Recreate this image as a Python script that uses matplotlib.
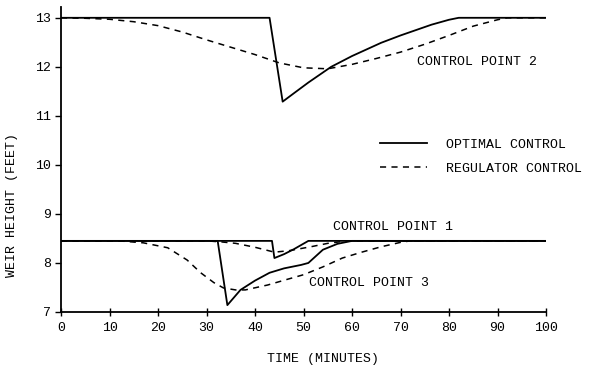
import matplotlib
matplotlib.use("Agg")
import matplotlib.pyplot as plt
from matplotlib.lines import Line2D

# control point 2
cp2_opt_t = [0, 43, 45.7, 48, 51, 55.7, 60, 66, 70, 76.4, 80, 82, 100]
cp2_opt_y = [13.0, 13.0, 11.29, 11.46, 11.68, 12.0, 12.22, 12.49, 12.64, 12.86, 12.96, 13.0, 13.0]
cp2_reg_t = [0, 5, 10, 15, 20, 25, 30, 35, 40, 45, 50, 55, 60, 65, 70, 75, 80, 85, 90, 92, 100]
cp2_reg_y = [13.0, 12.99, 12.97, 12.92, 12.84, 12.71, 12.55, 12.40, 12.25, 12.08, 11.98, 11.96,
             12.05, 12.17, 12.30, 12.46, 12.64, 12.83, 12.96, 13.0, 13.0]

# control point 1
cp1_opt_t = [0, 43.5, 44, 46, 48, 51, 100]
cp1_opt_y = [8.45, 8.45, 8.10, 8.18, 8.28, 8.45, 8.45]
cp1_reg_t = [0, 30, 33, 36, 40, 44, 47, 51.5, 55, 59, 100]
cp1_reg_y = [8.45, 8.45, 8.43, 8.40, 8.32, 8.22, 8.25, 8.33, 8.40, 8.45, 8.45]

# control point 3
cp3_opt_t = [0, 32.3, 34.3, 37, 40, 43, 46, 49.5, 51, 54, 57, 60, 100]
cp3_opt_y = [8.45, 8.45, 7.14, 7.45, 7.64, 7.80, 7.89, 7.96, 8.0, 8.27, 8.39, 8.45, 8.45]
cp3_reg_t = [0, 12, 17, 22, 26, 28.8, 31.5, 33.5, 36, 38, 42.6, 46.8, 50, 54, 58, 62, 66, 70, 72, 100]
cp3_reg_y = [8.45, 8.45, 8.41, 8.31, 8.06, 7.80, 7.60, 7.49, 7.45, 7.45, 7.55, 7.67, 7.76,
             7.92, 8.10, 8.22, 8.33, 8.42, 8.45, 8.45]

x_ticks = list(range(0, 101, 10))
y_ticks = [7, 8, 9, 10, 11, 12, 13]

FONT = "Liberation Mono"
FS = 9.5
plt.rcParams["font.family"] = FONT

fig = plt.figure(figsize=(5.89, 3.67), dpi=100)
ax = fig.add_axes([0.1036, 0.1499, 0.8234, 0.831])

solid = dict(color="black", lw=1.3, ls="-")
dashed = dict(color="black", lw=1.1, ls=(0, (4, 3.5)))

ax.plot(cp2_opt_t, cp2_opt_y, **solid)
ax.plot(cp2_reg_t, cp2_reg_y, **dashed)
ax.plot(cp1_opt_t, cp1_opt_y, **solid)
ax.plot(cp1_reg_t, cp1_reg_y, **dashed)
ax.plot(cp3_opt_t, cp3_opt_y, **solid)
ax.plot(cp3_reg_t, cp3_reg_y, **dashed)

ax.text(73.3, 12.1, "CONTROL POINT 2", fontsize=FS, va="center", ha="left")
ax.text(56.1, 8.73, "CONTROL POINT 1", fontsize=FS, va="center", ha="left")
ax.text(51.1, 7.59, "CONTROL POINT 3", fontsize=FS, va="center", ha="left")

handles = [Line2D([], [], **solid), Line2D([], [], **dashed)]
ax.legend(handles, ["OPTIMAL CONTROL", "REGULATOR CONTROL"], frameon=False,
          fontsize=FS, handlelength=3.56, handletextpad=1.4, labelspacing=0.9,
          loc="upper left", bbox_to_anchor=(0.634, 0.607))

ax.set_xlim(0, 100)
ax.set_ylim(7, 13.22)
ax.set_xticks(x_ticks)
ax.set_yticks(y_ticks)
ax.tick_params(axis="x", direction="inout", length=6, width=1, labelsize=FS, pad=4)
ax.tick_params(axis="y", direction="out", length=4, width=1, labelsize=FS, pad=3)

for s in ["top", "right"]:
    ax.spines[s].set_visible(False)
for s in ["left", "bottom"]:
    ax.spines[s].set_linewidth(1.3)

ax.set_xlabel("TIME (MINUTES)", fontsize=FS)
ax.xaxis.set_label_coords(0.54, -0.135)
ax.set_ylabel("WEIR HEIGHT (FEET)", fontsize=FS)
ax.yaxis.set_label_coords(-0.088, 0.35)

fig.savefig("out.png", dpi=100)
